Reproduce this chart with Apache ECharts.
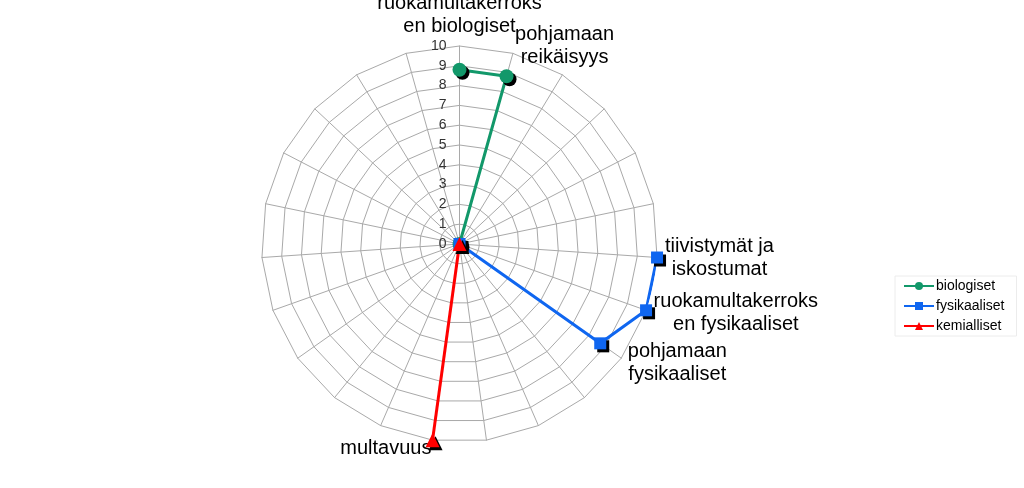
<!DOCTYPE html>
<html>
<head>
<meta charset="utf-8">
<script src="https://cdn.jsdelivr.net/npm/echarts@6/dist/echarts.min.js"></script>
<style>
html,body{margin:0;padding:0;background:#fff;}
#chart{width:1024px;height:488px;}
</style>
</head>
<body>
<div id="chart"></div>
<script>
// Categories in clockwise order starting from the top (Excel radar order)
var categories = [
  "ruokamultakerroks\nen biologiset",
  "pohjamaan\nreikäisyys",
  "", "", "", "",
  "tiivistymät ja\niskostumat",
  "ruokamultakerroks\nen fysikaaliset",
  "pohjamaan\nfysikaaliset",
  "", "", "",
  "multavuus",
  "", "", "", "", "", "", "", "", "", ""
];
var radialTicks = [0, 1, 2, 3, 4, 5, 6, 7, 8, 9, 10];
var seriesNames = ["biologiset", "fysikaaliset", "kemialliset"];
var biologiset = [8.8, 8.8, 0, null, null, null, null, null, null, null, null, null, null, null, null, null, null, null, null, null, null, null, null];
var fysikaaliset = [null, null, null, null, null, null, 10, 10, 8.7, 0, null, null, null, null, null, null, null, null, null, null, null, null, null];
var kemialliset = [null, null, null, null, null, null, null, null, null, null, null, null, 10, 0, null, null, null, null, null, null, null, null, null];

var FONT = "'Liberation Sans', Arial, sans-serif";
var center = [459.5, 244];
var R = 198;
var n = categories.length;

// radar indicators go counter-clockwise in ECharts: reorder so they match clockwise order
var indicators = [];
for (var j = 0; j < n; j++) {
  var i = (n - j) % n;
  indicators.push({ name: categories[i], min: radialTicks[0], max: radialTicks[radialTicks.length - 1] });
}

var gridColor = '#a9a9a9';
var chart = echarts.init(document.getElementById('chart'));
var option = {
  backgroundColor: '#fff',
  animation: false,
  textStyle: { fontFamily: FONT },
  radar: {
    center: center,
    radius: R,
    startAngle: 90,
    shape: 'polygon',
    splitNumber: 10,
    indicator: indicators,
    axisNameGap: 8,
    axisName: {
      show: true,
      color: '#000',
      fontSize: 20,
      fontFamily: FONT,
      lineHeight: 23,
      formatter: function (name) {
        if (!name) return '';
        return name.split('\n').map(function (s) { return '{c|' + s + '}'; }).join('\n');
      },
      rich: {
        c: { align: 'center', fontSize: 20, lineHeight: 23, fontFamily: FONT, color: '#000' }
      }
    },
    splitLine: { lineStyle: { color: gridColor, width: 1 } },
    splitArea: { show: false },
    axisLine: { lineStyle: { color: gridColor, width: 1 } },
    axisTick: { show: false },
    axisLabel: { show: false }
  },
  polar: { center: center, radius: R },
  angleAxis: {
    type: 'category',
    data: categories,
    startAngle: 90,
    clockwise: true,
    boundaryGap: false,
    axisLine: { show: false },
    axisTick: { show: false },
    axisLabel: { show: false },
    splitLine: { show: false }
  },
  radiusAxis: {
    type: 'value',
    min: radialTicks[0],
    max: radialTicks[radialTicks.length - 1],
    interval: 1,
    axisLine: { show: false },
    axisTick: { show: false },
    splitLine: { show: false },
    axisLabel: { show: true, fontSize: 14, color: '#333', margin: 13, fontFamily: FONT },
    z: 5
  },
  legend: {
    orient: 'vertical',
    left: 895,
    top: 276,
    itemWidth: 30,
    itemHeight: 10,
    itemGap: 6,
    padding: [3, 12, 3, 8],
    borderColor: '#ececec',
    borderWidth: 1,
    textStyle: { fontSize: 14, color: '#000', fontFamily: FONT, padding: [0, 0, 0, -3] },
    data: seriesNames
  },
  series: [
    {
      name: seriesNames[0], type: 'line', coordinateSystem: 'polar',
      data: biologiset, connectNulls: false, clip: false,
      symbol: 'circle', symbolSize: 14,
      lineStyle: { color: '#12986a', width: 3 },
      itemStyle: { color: '#12986a', shadowColor: '#000', shadowOffsetX: 3, shadowOffsetY: 3, shadowBlur: 0 },
      z: 3
    },
    {
      name: seriesNames[1], type: 'line', coordinateSystem: 'polar',
      data: fysikaaliset, connectNulls: false, clip: false,
      symbol: 'rect', symbolSize: 12,
      lineStyle: { color: '#0f66f0', width: 3 },
      itemStyle: { color: '#0f66f0', shadowColor: '#000', shadowOffsetX: 3, shadowOffsetY: 3, shadowBlur: 0 },
      z: 3
    },
    {
      name: seriesNames[2], type: 'line', coordinateSystem: 'polar',
      data: kemialliset, connectNulls: false, clip: false,
      symbol: 'triangle', symbolSize: 14,
      lineStyle: { color: '#ff0000', width: 3 },
      itemStyle: { color: '#ff0000', shadowColor: '#000', shadowOffsetX: 3, shadowOffsetY: 3, shadowBlur: 0 },
      z: 3
    }
  ]
};
chart.setOption(option);
</script>
</body>
</html>
